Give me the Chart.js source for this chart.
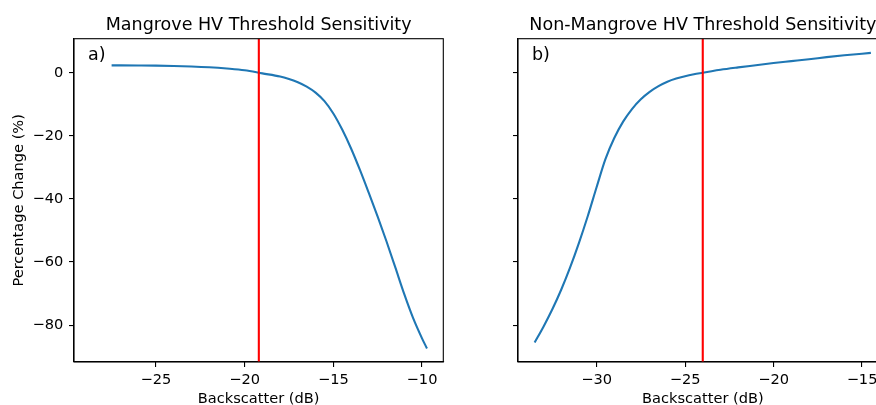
<!DOCTYPE html>
<html>
<head>
<meta charset="utf-8">
<script src="https://cdn.jsdelivr.net/npm/chart.js@4.4.1/dist/chart.umd.min.js"></script>
<style>
html, body { margin: 0; padding: 0; background: #fff; overflow: hidden; width: 876px; height: 405px; }
canvas { position: absolute; top: 0; }
#chartA { left: 0; }
#chartB { left: 444px; }
</style>
</head>
<body>
<canvas id="chartA" width="450" height="420"></canvas>
<canvas id="chartB" width="450" height="420"></canvas>
<script>
// values
const mangroveX = [-27.5, -26, -25, -24, -23, -22, -21, -20, -19, -18, -17.5, -17, -16.5, -16, -15.5, -15,
    -14.5, -14, -13.5, -13, -12.5, -12, -11.5, -11, -10.5, -10, -9.72];
const mangroveY = [2.35, 2.3, 2.25, 2.15, 2.0, 1.75, 1.35, 0.8, -0.2, -1.2, -2.0, -3.0, -4.4, -6.3, -9.0, -12.9,
    -18.0, -24.0, -30.8, -38.1, -45.6, -53.5, -61.8, -70.2, -77.8, -84.2, -87.4];

const nonMangroveX = [-33.5, -33, -32.5, -32, -31.5, -31, -30.5, -30, -29.5, -29, -28.5, -28, -27.5, -27,
    -26.5, -26, -25.5, -25, -24.5, -24, -23.5, -23, -22, -21, -20, -19, -18, -17, -16, -15, -14.5];
const nonMangroveY = [-85.5, -80.5, -75.0, -68.8, -61.8, -54.0, -45.5, -36.3, -27.4, -20.7, -15.5, -11.5, -8.4, -6.05,
    -4.25, -2.85, -1.85, -1.1, -0.5, 0.0, 0.5, 0.95, 1.7, 2.4, 3.1, 3.7, 4.3, 4.95, 5.55, 6.05, 6.3];

const thresholds = [-19.2, -24.0];
const titles = ['Mangrove HV Threshold Sensitivity', 'Non-Mangrove HV Threshold Sensitivity'];
const panelLetters = ['a)', 'b)'];
const xTicksA = [-25, -20, -15, -10];
const xTicksB = [-30, -25, -20, -15];
const yTicks = [-80, -60, -40, -20, 0];
const xLimitsA = [-29.62, -8.8];
const xLimitsB = [-34.44, -13.55];
const yLimits = [-91.7, 10.8];

Chart.defaults.font.family = '"DejaVu Sans", sans-serif';
Chart.defaults.color = '#000';

const framePlugin = {
    id: 'frame',
    afterDatasetsDraw(chart, args, opts) {
        const { ctx, chartArea: a } = chart;
        ctx.save();
        ctx.strokeStyle = '#000';
        ctx.lineWidth = 1.1;
        ctx.strokeRect(a.left, a.top, a.right - a.left, a.bottom - a.top);
        ctx.font = '17.5px "DejaVu Sans"';
        ctx.fillStyle = '#000';
        ctx.textBaseline = 'alphabetic';
        ctx.fillText(opts.letter, a.left + 14, a.top + 20.8);
        ctx.restore();
    }
};

const minus = v => String(v).replace('-', '\u2212');

function makeChart(id, xs, ys, thr, title, letter, xLim, xTicks, showYLabels, rightPad) {
    const ctx = document.getElementById(id).getContext('2d');
    return new Chart(ctx, {
        type: 'line',
        data: {
            datasets: [
                {
                    data: [{ x: thr, y: yLimits[0] }, { x: thr, y: yLimits[1] }],
                    borderColor: '#ff0000',
                    borderWidth: 2.1,
                    pointRadius: 0
                },
                {
                    data: xs.map((x, i) => ({ x: x, y: ys[i] })),
                    borderColor: '#1f77b4',
                    borderWidth: 2.1,
                    pointRadius: 0,
                    cubicInterpolationMode: 'monotone'
                }
            ]
        },
        options: {
            responsive: false,
            animation: false,
            devicePixelRatio: 1,
            layout: { padding: { left: 0, right: rightPad, top: 0, bottom: 0 } },
            plugins: {
                legend: { display: false },
                tooltip: { enabled: false },
                title: {
                    display: true,
                    text: title,
                    fullSize: false,
                    font: { size: 17.5, weight: 'normal' },
                    padding: { top: 14.5, bottom: 3.2 }
                },
                frame: { letter: letter }
            },
            scales: {
                x: {
                    type: 'linear',
                    min: xLim[0],
                    max: xLim[1],
                    afterBuildTicks: s => { s.ticks = xTicks.map(v => ({ value: v })); },
                    afterFit: s => { s.height = 58; },
                    grid: { drawOnChartArea: false, drawTicks: true, tickLength: 5, color: '#000', lineWidth: 1.1 },
                    border: { display: true, color: '#000', width: 1.1 },
                    ticks: { font: { size: 14.6 }, padding: 4.6, maxRotation: 0, callback: minus },
                    title: { display: true, text: 'Backscatter (dB)', font: { size: 14.6 }, padding: { top: 0, bottom: 12.3 } }
                },
                y: {
                    type: 'linear',
                    min: yLimits[0],
                    max: yLimits[1],
                    afterBuildTicks: s => { s.ticks = yTicks.map(v => ({ value: v })); },
                    afterFit: s => { s.width = 74; },
                    grid: { drawOnChartArea: false, drawTicks: true, tickLength: 5, color: '#000', lineWidth: 1.1 },
                    border: { display: true, color: '#000', width: 1.1 },
                    ticks: { display: showYLabels, font: { size: 14.6 }, padding: 5.7, callback: minus },
                    title: { display: showYLabels, text: 'Percentage Change (%)', font: { size: 14.6 }, padding: { top: 10, bottom: 0 } }
                }
            }
        },
        plugins: [framePlugin]
    });
}

makeChart('chartA', mangroveX, mangroveY, thresholds[0], titles[0], panelLetters[0], xLimitsA, xTicksA, true, 6.7);
makeChart('chartB', nonMangroveX, nonMangroveY, thresholds[1], titles[1], panelLetters[1], xLimitsB, xTicksB, false, 6.3);
</script>
</body>
</html>
